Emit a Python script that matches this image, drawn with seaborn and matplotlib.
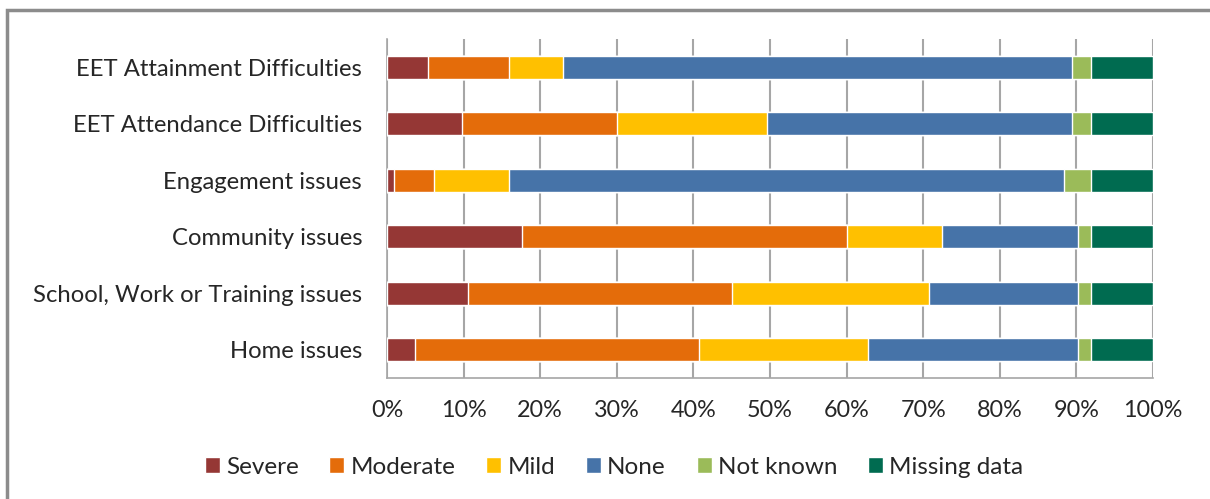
import numpy as np
import pandas as pd
import matplotlib
matplotlib.use("Agg")
import matplotlib.pyplot as plt
import seaborn as sns
from matplotlib.patches import Patch, Rectangle

sns.set_style("white")
plt.rcParams['font.family'] = ['Lato', 'DejaVu Sans']

categories = ["EET Attainment Difficulties", "EET Attendance Difficulties",
              "Engagement issues", "Community issues",
              "School, Work or Training issues", "Home issues"]
levels = ["Severe", "Moderate", "Mild", "None", "Not known", "Missing data"]

severe = [5.3, 9.8, 0.9, 17.6, 10.6, 3.6]
moderate = [10.6, 20.2, 5.3, 42.5, 34.4, 37.1]
mild = [7.1, 19.6, 9.7, 12.4, 25.8, 22.1]
none = [66.4, 39.8, 72.5, 17.7, 19.4, 27.4]
not_known = [2.5, 2.5, 3.5, 1.7, 1.7, 1.7]
missing = [8.1, 8.1, 8.1, 8.1, 8.1, 8.1]

colors = ["#953735", "#E46C0A", "#FFC000", "#4673A8", "#9BBB59", "#006B50"]

df = pd.DataFrame({"cat": categories, "Severe": severe, "Moderate": moderate,
                   "Mild": mild, "None": none, "Not known": not_known,
                   "Missing data": missing})
cum = df[levels].cumsum(axis=1)
cum = cum.div(cum["Missing data"], axis=0)

fig = plt.figure(figsize=(12.1, 4.99), dpi=100)
ax = fig.add_axes([387/1210, 1 - 378/499, 766/1210, 339/499])

# draw longest layer first so shorter layers sit on top
for lev, col in reversed(list(zip(levels, colors))):
    sns.barplot(x=cum[lev].values, y=df["cat"], orient="h", color=col,
                width=0.41, ax=ax, saturation=1, zorder=3)

ax.set_xlim(0, 1)
ax.set_ylim(5.5, -0.5)
ax.set_xticks(np.arange(0, 1.01, 0.1))
ax.set_xticklabels([f"{int(round(v*100))}%" for v in np.arange(0, 1.01, 0.1)])
ax.set_xlabel("")
ax.set_ylabel("")
ax.grid(axis="x", color="#A6A6A6", linewidth=1.5, zorder=0)
ax.set_axisbelow(True)
for s in ["top", "right"]:
    ax.spines[s].set_visible(False)
for s in ["left", "bottom"]:
    ax.spines[s].set_color("#A6A6A6")
    ax.spines[s].set_linewidth(1.2)

ax.set_yticks(np.arange(-0.5, 6, 1), minor=True)
ax.tick_params(axis="y", which="major", length=0, pad=18, labelsize=17.2, labelcolor="#262626")
ax.tick_params(axis="y", which="minor", length=7, color="#A6A6A6", width=1.2, direction="out")
ax.tick_params(axis="x", length=7, color="#A6A6A6", width=1.2, direction="out",
               labelsize=16.8, labelcolor="#262626", pad=9)

handles = [Patch(facecolor=c, label=l) for l, c in zip(levels, colors)]
fig.legend(handles=handles, loc="center", bbox_to_anchor=(614/1210, 1 - 467/499),
           ncol=6, frameon=False, fontsize=17.5, handlelength=0.62, handleheight=0.62,
           handletextpad=0.25, columnspacing=1.27, labelcolor="#262626")

fig.patches.append(Rectangle((7/1210, -0.1), 1.1, 1 - 10/499 + 0.1,
                             transform=fig.transFigure, fill=False,
                             edgecolor="#8C8C8C", linewidth=2.5))

fig.savefig("out.png", dpi=100)
